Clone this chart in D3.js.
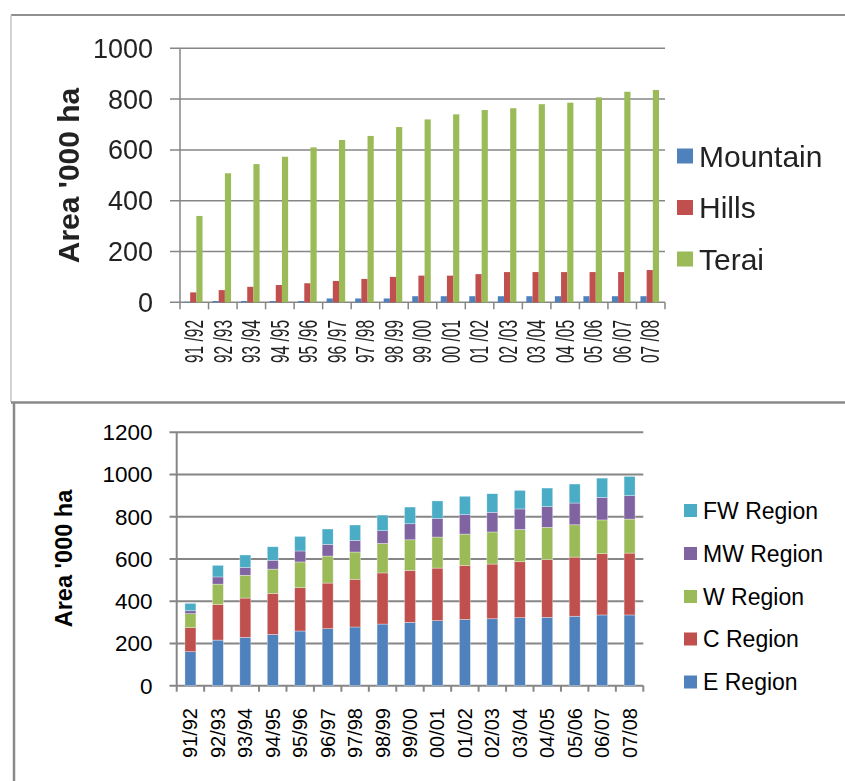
<!DOCTYPE html>
<html>
<head>
<meta charset="utf-8">
<script src="https://cdn.jsdelivr.net/npm/d3@7"></script>
<style>
  body { margin: 0; background: #fff; }
  svg { display: block; font-family: "Liberation Sans", Arial, sans-serif; }
</style>
</head>
<body>
<svg id="chart" width="845" height="781"></svg>
<script>
// Crop years
const periods = ["91/92","92/93","93/94","94/95","95/96","96/97","97/98","98/99","99/00",
                 "00/01","01/02","02/03","03/04","04/05","05/06","06/07","07/08"];
const periodLabelsSpaced = ["91 /92","92 /93","93 /94","94 /95","95 /96","96 /97","97 /98","98 /99","99 /00",
                            "00 /01","01 /02","02 /03","03 /04","04 /05","05 /06","06 /07","07 /08"];

// Area ('000 ha) by ecological belt
const beltNames = ["Mountain", "Hills", "Terai"];
const mountain = [2, 5, 5, 5, 5, 15, 15, 15, 24, 24, 24, 24, 24, 24, 24, 24, 24];
const hills    = [39, 48, 61, 68, 75, 84, 92, 100, 105, 105, 111, 119, 119, 119, 119, 119, 127];
const terai    = [340, 508, 544, 573, 610, 639, 655, 690, 720, 740, 757, 764, 780, 786, 807, 829, 836];
const beltColors = ["#4F81BD", "#C0504D", "#9BBB59"];
const topTicks = [0, 200, 400, 600, 800, 1000];

// Area ('000 ha) by development region, stacked
const regionNames = ["E Region", "C Region", "W Region", "MW Region", "FW Region"];
const eRegion  = [161, 216, 229, 243, 259, 270, 278, 292, 300, 308, 314, 317, 322, 324, 329, 335, 335];
const cRegion  = [114, 169, 186, 194, 205, 216, 226, 242, 246, 249, 256, 259, 265, 273, 280, 290, 293];
const wRegion  = [66, 96, 108, 115, 122, 128, 129, 140, 145, 147, 148, 152, 153, 153, 153, 160, 161];
const mwRegion = [14, 34, 37, 42, 52, 55, 55, 60, 76, 88, 92, 93, 97, 98, 103, 107, 111];
const fwRegion = [35, 55, 59, 64, 69, 73, 73, 74, 79, 83, 87, 88, 88, 88, 90, 91, 91];
const regionColors = ["#4F81BD", "#C0504D", "#9BBB59", "#8064A2", "#4BACC6"];
const bottomTicks = [0, 200, 400, 600, 800, 1000, 1200];

const svg = d3.select("#chart");
const gridColor = "#868686";

// soft rendering for the upper panel
svg.append("defs").append("filter").attr("id", "soft")
  .attr("x", "-5%").attr("y", "-5%").attr("width", "110%").attr("height", "110%")
  .append("feGaussianBlur").attr("stdDeviation", 0.45);

// ---------- panel frames ----------
svg.append("line").attr("x1", 11).attr("y1", 15).attr("x2", 845).attr("y2", 15)
  .attr("stroke", "#8f8f8f").attr("stroke-width", 2);
svg.append("line").attr("x1", 11).attr("y1", 15).attr("x2", 11).attr("y2", 402)
  .attr("stroke", "#c4c4c4").attr("stroke-width", 1.5);
svg.append("line").attr("x1", 11).attr("y1", 402.5).attr("x2", 845).attr("y2", 402.5)
  .attr("stroke", "#8a8a8a").attr("stroke-width", 2.5);
svg.append("line").attr("x1", 14).attr("y1", 402).attr("x2", 14).attr("y2", 781)
  .attr("stroke", "#8a8a8a").attr("stroke-width", 2.5);

// ---------- top: grouped columns ----------
{
  const g = svg.append("g").attr("filter", "url(#soft)");
  const x = d3.scaleBand(periods, [180, 665]);
  const y = d3.scaleLinear([0, 1000], [302.3, 48.3]);
  const bw = x.bandwidth();
  const x1 = d3.scaleBand(beltNames, [bw * 0.14, bw * 0.79]);

  // gridlines + y ticks
  g.append("g").selectAll("line").data(topTicks).join("line")
    .attr("x1", 170).attr("x2", 665)
    .attr("y1", d => y(d)).attr("y2", d => y(d))
    .attr("stroke", gridColor).attr("stroke-width", 1.5);
  g.append("line").attr("x1", 180).attr("x2", 180).attr("y1", y(1000)).attr("y2", y(0))
    .attr("stroke", gridColor).attr("stroke-width", 1.5);

  g.append("g").selectAll("text").data(topTicks).join("text")
    .attr("x", 153).attr("y", d => y(d)).attr("dy", "0.35em")
    .attr("text-anchor", "end").attr("font-size", 27).attr("fill", "#222")
    .text(d => d);

  // category boundary ticks
  const bounds = periods.map(p => x(p)).concat([x(periods[periods.length - 1]) + bw]);
  g.append("g").selectAll("line").data(bounds).join("line")
    .attr("x1", d => d).attr("x2", d => d).attr("y1", y(0)).attr("y2", y(0) + 7)
    .attr("stroke", gridColor).attr("stroke-width", 1.5);

  // bars
  const series = [mountain, hills, terai];
  series.forEach((vals, si) => {
    g.append("g").selectAll("rect").data(vals).join("rect")
      .attr("x", (d, i) => x(periods[i]) + x1(beltNames[si]))
      .attr("width", x1.bandwidth())
      .attr("y", d => y(d))
      .attr("height", d => y(0) - y(d))
      .attr("fill", beltColors[si]);
  });

  // category labels (condensed)
  g.append("g").selectAll("text").data(periodLabelsSpaced).join("text")
    .attr("transform", (d, i) => `translate(${x(periods[i]) + bw / 2},320) rotate(-90)`)
    .attr("text-anchor", "end").attr("dy", "0.35em")
    .attr("font-size", 25).attr("fill", "#222")
    .attr("textLength", 43).attr("lengthAdjust", "spacingAndGlyphs")
    .text(d => d);

  // axis title
  g.append("text")
    .attr("transform", "translate(68.5,175.5) rotate(-90)")
    .attr("text-anchor", "middle").attr("dy", "0.35em")
    .attr("font-size", 30).attr("font-weight", "bold").attr("fill", "#222")
    .text("Area '000 ha");

  // legend
  const legY = [156, 207.5, 259];
  const leg = g.append("g").selectAll("g").data(beltNames).join("g")
    .attr("transform", (d, i) => `translate(677,${legY[i]})`);
  leg.append("rect").attr("x", 0).attr("y", -7.5).attr("width", 16).attr("height", 15)
    .attr("fill", (d, i) => beltColors[i]);
  leg.append("text").attr("x", 22).attr("dy", "0.35em")
    .attr("font-size", 30).attr("fill", "#222").text(d => d);
}

// ---------- bottom: stacked columns ----------
{
  const g = svg.append("g");
  const x = d3.scaleBand(periods, [176.7, 643.3]);
  const y = d3.scaleLinear([0, 1200], [685.7, 432.3]);
  const bw = x.bandwidth();
  const barW = 11;

  g.append("g").selectAll("line").data(bottomTicks).join("line")
    .attr("x1", 169.5).attr("x2", 643.3)
    .attr("y1", d => y(d)).attr("y2", d => y(d))
    .attr("stroke", gridColor).attr("stroke-width", 2);
  g.append("line").attr("x1", 176.7).attr("x2", 176.7).attr("y1", y(1200)).attr("y2", y(0))
    .attr("stroke", gridColor).attr("stroke-width", 2);

  g.append("g").selectAll("text").data(bottomTicks).join("text")
    .attr("x", 152.5).attr("y", d => y(d)).attr("dy", "0.35em")
    .attr("text-anchor", "end").attr("font-size", 22.5).attr("fill", "#000")
    .text(d => d);

  const bounds = periods.map(p => x(p)).concat([x(periods[periods.length - 1]) + bw]);
  g.append("g").selectAll("line").data(bounds).join("line")
    .attr("x1", d => d).attr("x2", d => d).attr("y1", y(0)).attr("y2", y(0) + 6)
    .attr("stroke", gridColor).attr("stroke-width", 2);

  const table = periods.map((p, i) => ({
    period: p,
    "E Region": eRegion[i], "C Region": cRegion[i], "W Region": wRegion[i],
    "MW Region": mwRegion[i], "FW Region": fwRegion[i]
  }));
  const stacked = d3.stack().keys(regionNames)(table);

  stacked.forEach((layer, si) => {
    g.append("g").selectAll("rect").data(layer).join("rect")
      .attr("x", d => x(d.data.period) + (bw - barW) / 2)
      .attr("width", barW)
      .attr("y", d => y(d[1]))
      .attr("height", d => y(d[0]) - y(d[1]))
      .attr("fill", regionColors[si])
      .attr("stroke", "#ffffff").attr("stroke-opacity", 0.55).attr("stroke-width", 0.6);
  });

  g.append("g").selectAll("text").data(periods).join("text")
    .attr("transform", d => `translate(${x(d) + bw / 2},708) rotate(-90)`)
    .attr("text-anchor", "end").attr("dy", "0.35em")
    .attr("font-size", 20).attr("fill", "#000")
    .text(d => d);

  g.append("text")
    .attr("transform", "translate(64,558.5) rotate(-90)")
    .attr("text-anchor", "middle").attr("dy", "0.35em")
    .attr("font-size", 23.5).attr("font-weight", "bold").attr("fill", "#000")
    .text("Area '000 ha");

  // legend, listed top-down from the last series
  const legOrder = regionNames.slice().reverse();
  const legY = [510.5, 553.5, 596.5, 639, 682];
  const leg = g.append("g").selectAll("g").data(legOrder).join("g")
    .attr("transform", (d, i) => `translate(684,${legY[i]})`);
  leg.append("rect").attr("x", 0).attr("y", -6.5).attr("width", 13).attr("height", 13)
    .attr("fill", d => regionColors[regionNames.indexOf(d)]);
  leg.append("text").attr("x", 19).attr("dy", "0.35em")
    .attr("font-size", 23).attr("fill", "#000").text(d => d);
}
</script>
</body>
</html>
